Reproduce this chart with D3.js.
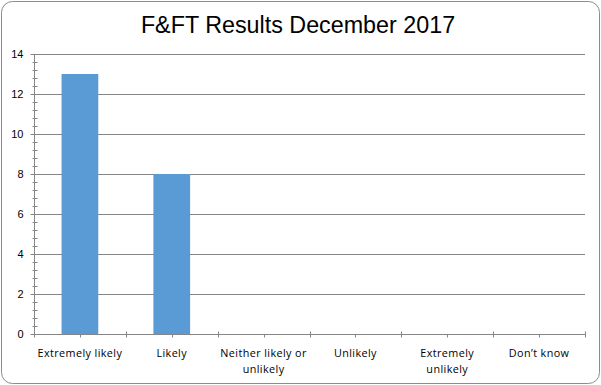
<!DOCTYPE html>
<html lang="en">
<head>
  <meta charset="UTF-8">
  <title>F&amp;FT Results December 2017</title>
  <script src="https://d3js.org/d3.v7.min.js"></script>
  <style>
    body { margin: 0; background: #fff; }
    svg { display: block; }
  </style>
</head>
<body>
  <div id="chart"></div>
  <script>
    const categories = ["Extremely likely", "Likely", "Neither likely or unlikely", "Unlikely", "Extremely unlikely", "Don\u2019t know"];
    const labelLines = [["Extremely likely"], ["Likely"], ["Neither likely or", "unlikely"], ["Unlikely"], ["Extremely", "unlikely"], ["Don\u2019t know"]];
    const values = [13, 8, 0, 0, 0, 0];
    const yTicks = [0, 2, 4, 6, 8, 10, 12, 14];

    const width = 601, height = 385;
    const margin = { top: 54, right: 16, bottom: 51, left: 34 };
    const grey = "#868686";

    const svg = d3.select("#chart").append("svg").attr("width", width).attr("height", height);

    svg.append("rect")
      .attr("x", 1.5).attr("y", 1.5)
      .attr("width", width - 3).attr("height", height - 3)
      .attr("rx", 11).attr("ry", 11)
      .attr("fill", "#fff").attr("stroke", "#8c8c8c");

    svg.append("text")
      .attr("x", 298).attr("y", 33)
      .attr("text-anchor", "middle")
      .style("font-family", "Liberation Sans, Arial, sans-serif")
      .style("font-size", "23.3px")
      .attr("fill", "#000")
      .text("F&FT Results December 2017");

    const x = d3.scaleBand().domain(categories).range([margin.left, width - margin.right]).paddingInner(0).paddingOuter(0);
    const y = d3.scaleLinear().domain([0, 14]).range([height - margin.bottom, margin.top]);

    // gridlines
    svg.append("g").selectAll("line").data(yTicks.filter(d => d > 0)).join("line")
      .attr("x1", margin.left).attr("x2", width - margin.right)
      .attr("y1", d => y(d) + 0.5).attr("y2", d => y(d) + 0.5)
      .attr("stroke", grey);

    // bars
    svg.append("g").selectAll("rect").data(values).join("rect")
      .attr("x", (d, i) => x(categories[i]) + x.bandwidth() * 0.3)
      .attr("width", x.bandwidth() * 0.4)
      .attr("y", d => y(d))
      .attr("height", d => y(0) - y(d))
      .attr("fill", "#5b9bd5");

    // y axis
    const yAxis = svg.append("g").attr("transform", `translate(${margin.left + 0.5},0)`);
    yAxis.append("line").attr("y1", y(14)).attr("y2", y(0)).attr("stroke", grey);
    const minor = d3.range(0, 14.01, 0.4).filter(v => Math.abs(v / 2 - Math.round(v / 2)) > 0.01);
    yAxis.selectAll("line.minor").data(minor).join("line").attr("class", "minor")
      .attr("x1", -2).attr("x2", 3).attr("y1", d => Math.round(y(d)) + 0.5).attr("y2", d => Math.round(y(d)) + 0.5)
      .attr("stroke", grey);
    yAxis.selectAll("line.major").data(yTicks).join("line").attr("class", "major")
      .attr("x1", -4).attr("x2", 3).attr("y1", d => y(d) + 0.5).attr("y2", d => y(d) + 0.5)
      .attr("stroke", grey);
    yAxis.selectAll("text").data(yTicks).join("text")
      .attr("x", -11).attr("y", d => y(d) + 4)
      .attr("text-anchor", "end")
      .style("font-family", "Liberation Sans, Arial, sans-serif")
      .style("font-size", "11px")
      .attr("fill", "#000")
      .text(d => d);

    // x axis
    const xAxis = svg.append("g").attr("transform", `translate(0,${y(0) + 0.5})`);
    xAxis.append("line").attr("x1", margin.left).attr("x2", width - margin.right).attr("stroke", grey);
    const bounds = categories.map(c => x(c)).concat([width - margin.right]);
    xAxis.selectAll("line.major").data(bounds).join("line").attr("class", "major")
      .attr("x1", d => Math.round(d) + 0.5).attr("x2", d => Math.round(d) + 0.5).attr("y1", -3).attr("y2", 3)
      .attr("stroke", grey);
    xAxis.selectAll("line.minor").data(categories).join("line").attr("class", "minor")
      .attr("x1", d => Math.round(x(d) + x.bandwidth() / 2) + 0.5).attr("x2", d => Math.round(x(d) + x.bandwidth() / 2) + 0.5)
      .attr("y1", 0).attr("y2", 3)
      .attr("stroke", grey);
    const lbl = xAxis.selectAll("text").data(categories).join("text")
      .attr("text-anchor", "middle")
      .style("font-family", "Open Sans, Liberation Sans, sans-serif")
      .style("font-size", "10.8px")
      .style("letter-spacing", "0.4px")
      .attr("fill", "#000");
    lbl.each(function (d, i) {
      const t = d3.select(this);
      labelLines[i].forEach((line, j) => {
        t.append("tspan")
          .attr("x", x(d) + x.bandwidth() / 2)
          .attr("y", 22 + j * 16)
          .text(line);
      });
    });
  </script>
</body>
</html>
